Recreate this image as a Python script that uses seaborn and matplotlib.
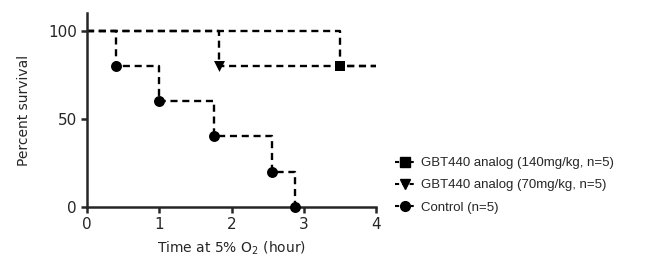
import numpy as np
import pandas as pd
import seaborn as sns
import matplotlib.pyplot as plt
from matplotlib.lines import Line2D

# Kaplan-Meier step data (time in hours, percent survival)
series_names = ["GBT440 analog (140mg/kg, n=5)",
                "GBT440 analog (70mg/kg, n=5)",
                "Control (n=5)"]
hi_time = [0, 3.5, 4.0]
hi_surv = [100, 80, 80]
lo_time = [0, 1.83, 4.0]
lo_surv = [100, 80, 80]
ctrl_time = [0, 0.4, 1.0, 1.76, 2.56, 2.88]
ctrl_surv = [100, 80, 60, 40, 20, 0]

# event points shown with markers
hi_evt_time = [3.5]
hi_evt_surv = [80]
lo_evt_time = [1.83]
lo_evt_surv = [80]
ctrl_evt_time = [0.4, 1.0, 1.76, 2.56, 2.88]
ctrl_evt_surv = [80, 60, 40, 20, 0]

markers = ["s", "v", "o"]

sns.set_style("ticks")
plt.rcParams['font.family'] = ['DejaVu Sans']

fig = plt.figure(figsize=(6.6, 2.61), dpi=100)
ax = fig.add_axes([0.132, 0.207, 0.438, 0.743])

steps = [(hi_time, hi_surv), (lo_time, lo_surv), (ctrl_time, ctrl_surv)]
events = [(hi_evt_time, hi_evt_surv), (lo_evt_time, lo_evt_surv),
          (ctrl_evt_time, ctrl_evt_surv)]

for (t, s), (et, es), m in zip(steps, events, markers):
    df = pd.DataFrame({"t": t, "s": s})
    sns.lineplot(data=df, x="t", y="s", ax=ax, color="black", sort=False,
                 estimator=None, drawstyle="steps-post", linestyle=(0, (3, 2)),
                 linewidth=1.7, clip_on=False)
    edf = pd.DataFrame({"t": et, "s": es})
    sns.scatterplot(data=edf, x="t", y="s", ax=ax, color="black", marker=m,
                    s=62, edgecolor="black", linewidth=0,
                    clip_on=False, zorder=5)

ax.set_xlim(0, 4)
ax.set_ylim(0, 110)
ax.set_xticks([0, 1, 2, 3, 4])
ax.set_yticks([0, 50, 100])
ax.set_xlabel("Time at 5% O$_2$ (hour)", fontsize=10, labelpad=5)
ax.set_ylabel("Percent survival", fontsize=10, labelpad=12)
ax.tick_params(axis="both", labelsize=11, width=1.8, length=4, direction="out")
for sp in ["left", "bottom"]:
    ax.spines[sp].set_linewidth(1.8)
sns.despine(ax=ax)

handles = [Line2D([0], [0], color="black", linestyle=(0, (2, 1.5)), linewidth=1.5,
                  marker=m, markersize=7) for m in markers]
leg = fig.legend(handles, series_names, loc="center left",
                 bbox_to_anchor=(0.58, 0.29), frameon=False,
                 handlelength=1.5, handletextpad=0.5, labelspacing=0.75,
                 prop={"family": "Liberation Sans", "size": 9.5})

fig.savefig("out.png", dpi=100)
